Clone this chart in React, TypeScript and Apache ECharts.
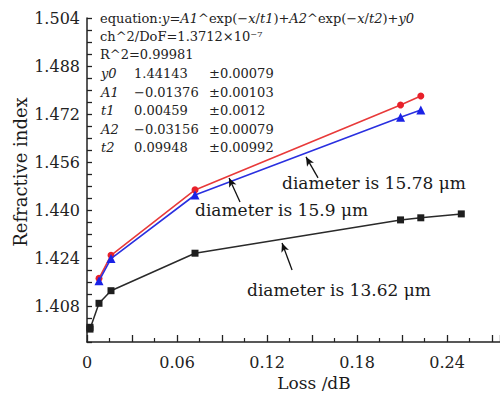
import React, { useEffect, useRef } from "react";
import * as echarts from "echarts";

const lossBlack = [0.002, 0.002, 0.008, 0.016, 0.072, 0.209, 0.2225, 0.2495];
const riBlack = [1.4009, 1.4003, 1.4089, 1.4131, 1.4256, 1.4367, 1.4374, 1.4387];
const lossRed = [0.008, 0.016, 0.072, 0.209, 0.2225];
const riRed = [1.4172, 1.4249, 1.4467, 1.475, 1.478];
const lossBlue = [0.008, 0.016, 0.072, 0.209, 0.2225];
const riBlue = [1.4164, 1.4238, 1.445, 1.4709, 1.4733];

const arrows = [
  { from: [0.154, 1.4507], to: [0.146, 1.4577] },
  { from: [0.102, 1.4427], to: [0.0947, 1.4507] },
  { from: [0.1367, 1.42], to: [0.13, 1.429] },
];

const annotations = [
  { text: "diameter is 15.78 μm", x: 282, y: 183 },
  { text: "diameter is 15.9 μm", x: 195, y: 210 },
  { text: "diameter is 13.62 μm", x: 247, y: 290 },
];

const params = [
  ["y0", "1.44143", "±0.00079"],
  ["A1", "−0.01376", "±0.00103"],
  ["t1", "0.00459", "±0.0012"],
  ["A2", "−0.03156", "±0.00079"],
  ["t2", "0.09948", "±0.00992"],
];

const FONT = "DejaVu Serif";

const zip = (xs: number[], ys: number[]) => xs.map((x, i) => [x, ys[i]]);

export default function App() {
  const ref = useRef<HTMLDivElement>(null);
  useEffect(() => {
    if (!ref.current) return;
    const chart = echarts.init(ref.current, undefined, { renderer: "svg" });
    const isMult = (v: number, base: number, step: number) => {
      const q = (v - base) / step;
      return Math.abs(q - Math.round(q)) < 1e-6;
    };
    const graphics: any[] = [
      {
        type: "text",
        left: 100,
        top: 12,
        style: {
          text:
            "equation:{i|y}={i|A1}^exp(−{i|x}/{i|t1})+{i|A2}^exp(−{i|x}/{i|t2})+{i|y0}",
          font: `13px "${FONT}"`,
          fill: "#222",
          rich: { i: { fontStyle: "italic", fontFamily: FONT, fontSize: 13 } },
        },
      },
      {
        type: "text",
        left: 100,
        top: 30,
        style: { text: "ch^2/DoF=1.3712×10⁻⁷", font: `13px "${FONT}"`, fill: "#222" },
      },
      {
        type: "text",
        left: 100,
        top: 48,
        style: { text: "R^2=0.99981", font: `13px "${FONT}"`, fill: "#222" },
      },
      ...params.flatMap((row, i) => [
        {
          type: "text",
          left: 101,
          top: 67 + i * 18.6,
          style: { text: row[0], font: `italic 13px "${FONT}"`, fill: "#222" },
        },
        {
          type: "text",
          left: 134,
          top: 67 + i * 18.6,
          style: { text: row[1], font: `13px "${FONT}"`, fill: "#222" },
        },
        {
          type: "text",
          left: 209,
          top: 67 + i * 18.6,
          style: { text: row[2], font: `13px "${FONT}"`, fill: "#222" },
        },
      ]),
      ...annotations.map((a) => ({
        type: "text",
        x: a.x,
        y: a.y,
        style: {
          text: a.text,
          font: `17px "${FONT}"`,
          fill: "#1a1a1a",
          verticalAlign: "middle",
          align: "left",
        },
      })),
      {
        type: "text",
        x: 314,
        y: 383,
        style: {
          text: "Loss /dB",
          font: `17px "${FONT}"`,
          fill: "#1a1a1a",
          align: "center",
          verticalAlign: "middle",
        },
      },
      {
        type: "text",
        x: 20,
        y: 172,
        rotation: Math.PI / 2,
        style: {
          text: "Refractive index",
          font: `18px "${FONT}"`,
          fill: "#1a1a1a",
          align: "center",
          verticalAlign: "middle",
        },
      },
    ];

    chart.setOption({
      animation: false,
      textStyle: { fontFamily: FONT },
      grid: { left: 87, right: 0, top: 18, bottom: 54 },
      xAxis: {
        type: "value",
        min: 0,
        max: 0.2753,
        interval: 0.03,
        axisLine: { lineStyle: { color: "#222", width: 1.5 } },
        axisTick: { inside: true, length: 7, lineStyle: { color: "#222", width: 1.3 } },
        minorTick: { show: true, splitNumber: 2, length: 4, lineStyle: { color: "#222", width: 1.2 } },
        splitLine: { show: false },
        axisLabel: {
          margin: 12,
          fontSize: 16,
          color: "#222",
          fontFamily: FONT,
          showMaxLabel: false,
          formatter: (v: number) =>
            isMult(v, 0, 0.06) ? (Math.abs(v) < 1e-9 ? "0" : v.toFixed(2)) : "",
        },
      },
      yAxis: {
        type: "value",
        min: 1.396,
        max: 1.504,
        interval: 0.004,
        axisLine: { show: true, lineStyle: { color: "#222", width: 1.5 } },
        axisTick: { inside: true, length: 5, lineStyle: { color: "#222", width: 1.3 } },
        splitLine: { show: false },
        axisLabel: {
          margin: 7,
          fontSize: 16,
          color: "#222",
          fontFamily: FONT,
          formatter: (v: number) => (isMult(v, 1.408, 0.016) ? v.toFixed(3) : ""),
        },
      },
      series: [
        {
          type: "line",
          name: "13.62",
          data: zip(lossBlack, riBlack),
          symbol: "rect",
          symbolSize: 7,
          itemStyle: { color: "#1e1e1e" },
          lineStyle: { color: "#2a2a2a", width: 1.5 },
        },
        {
          type: "line",
          name: "15.78",
          data: zip(lossRed, riRed),
          symbol: "circle",
          symbolSize: 7,
          itemStyle: { color: "#e8202a" },
          lineStyle: { color: "#e83a3a", width: 1.6 },
          z: 3,
        },
        {
          type: "line",
          name: "15.9",
          data: zip(lossBlue, riBlue),
          symbol: "triangle",
          symbolSize: 9,
          itemStyle: { color: "#1a22e6" },
          lineStyle: { color: "#2a30e0", width: 1.6 },
          z: 4,
        },
        {
          type: "line",
          name: "arrows",
          data: [],
          markLine: {
            silent: true,
            symbol: ["none", "arrow"],
            symbolSize: [6, 9],
            label: { show: false },
            lineStyle: { color: "#111", width: 1.3, type: "solid" },
            data: arrows.map((a) => [{ coord: a.from }, { coord: a.to }]),
          },
        },
      ],
      graphic: graphics,
    });
    return () => chart.dispose();
  }, []);
  return (
    <div
      ref={ref}
      style={{ position: "absolute", left: 0, top: 0, width: 500, height: 396, background: "#fff" }}
    />
  );
}
